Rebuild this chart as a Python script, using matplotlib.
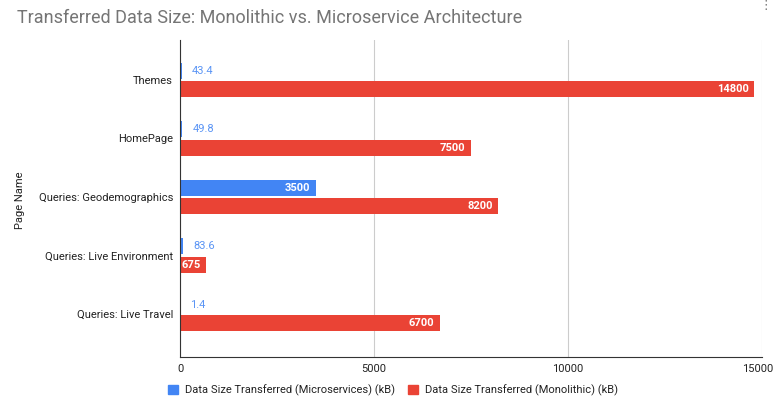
import matplotlib
matplotlib.use("Agg")
import matplotlib.pyplot as plt
import matplotlib.patches as patches
import matplotlib.transforms as mtransforms
import numpy as np

pages = ["Themes", "HomePage", "Queries: Geodemographics",
         "Queries: Live Environment", "Queries: Live Travel"]
micro = [43.4, 49.8, 3500, 83.6, 1.4]
mono = [14800, 7500, 8200, 675, 6700]
micro_name = "Data Size Transferred (Microservices) (kB)"
mono_name = "Data Size Transferred (Monolithic) (kB)"
xticks = [0, 5000, 10000, 15000]

blue = "#4285F4"
red = "#EA4335"

plt.rcParams["font.family"] = ["Roboto", "DejaVu Sans"]

fig = plt.figure(figsize=(7.75, 4.07), dpi=100)
ax = fig.add_axes([180 / 775, 1 - 357 / 407, 582 / 775, 317 / 407])

y = np.arange(len(pages))
h = 0.275
off = 0.158
ax.barh(y - off, micro, height=h, color=blue, zorder=3)
ax.barh(y + off, mono, height=h, color=red, zorder=3)

# value labels: inside the bar if it fits, else just after it
for vals, sign, col in [(micro, -1, blue), (mono, 1, red)]:
    for i, v in enumerate(vals):
        txt = f"{v:g}"
        if v >= 500:
            ax.annotate(txt, (v, i + sign * off), xytext=(-4, 0),
                        textcoords="offset points", ha="right", va="center",
                        color="white", fontsize=8, fontweight="bold", zorder=4)
        else:
            ax.annotate(txt, (v, i + sign * off), xytext=(7.5, 0),
                        textcoords="offset points", ha="left", va="center",
                        color="#5b95f5", fontsize=8, zorder=4)

ax.set_xlim(0, 15000)
ax.set_ylim(4.735, -0.68)
ax.set_xticks(xticks)
ax.set_xticklabels([str(t) for t in xticks])
ax.set_yticks(y)
ax.set_yticklabels(pages)
ax.tick_params(axis="both", length=0, labelsize=8, colors="#222222")
ax.tick_params(axis="x", pad=5)
ax.tick_params(axis="y", pad=5)

# last x label sits shifted left so it stays inside the figure
last = ax.get_xticklabels()[-1]
last.set_horizontalalignment("right")
last.set_transform(last.get_transform() +
                   mtransforms.ScaledTranslation(11 / 100, 0, fig.dpi_scale_trans))

ax.grid(axis="x", color="#cccccc", linewidth=0.8, zorder=0)
for s in ["top", "right"]:
    ax.spines[s].set_visible(False)
ax.spines["left"].set_color("#333333")
ax.spines["left"].set_zorder(5)
ax.spines["bottom"].set_color("#333333")

fig.text(20 / 775, 1 - 200 / 407, "Page Name", rotation=90, ha="center",
         va="center", fontsize=8, color="#222222")
fig.text(17 / 775, 1 - 18 / 407,
         "Transferred Data Size: Monolithic vs. Microservice Architecture",
         ha="left", va="center", fontsize=13, color="#757575")
fig.text(766 / 775, 1 - 6 / 407, "\u22ee", ha="center", va="center",
         fontsize=9, color="#777777", family="DejaVu Sans")

handles = [patches.Patch(color=blue, label=micro_name),
           patches.Patch(color=red, label=mono_name)]
fig.legend(handles=handles, loc="center left", bbox_to_anchor=(168 / 775, 1 - 390 / 407),
           ncol=2, frameon=False, fontsize=8, handlelength=0.9,
           handleheight=0.9, handletextpad=0.6, columnspacing=1.2,
           borderpad=0, borderaxespad=0, labelcolor="#222222")

fig.savefig("out.png", dpi=100)
